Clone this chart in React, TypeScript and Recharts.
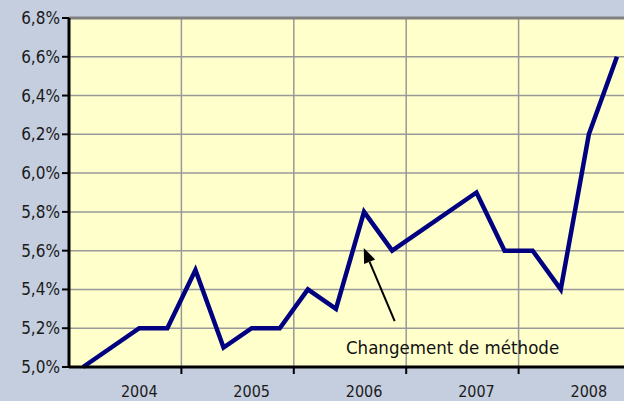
import React from "react";
import {
  LineChart,
  Line,
  XAxis,
  YAxis,
  CartesianGrid,
  ReferenceLine,
  ReferenceDot,
} from "recharts";

// quarterly rate, 2004 T1 .. 2008 T4 (null = no point published)
const years = ["2004", "2005", "2006", "2007", "2008"];
const quarters = years.flatMap((y) => ["T1", "T2", "T3", "T4"].map((q) => y + " " + q));
const rate = [
  5.0, null, 5.2, 5.2,
  5.5, 5.1, 5.2, 5.2,
  5.4, 5.3, 5.8, 5.6,
  null, null, 5.9, 5.6,
  5.6, 5.4, 6.2, 6.6,
];
const yTicks = [5.0, 5.2, 5.4, 5.6, 5.8, 6.0, 6.2, 6.4, 6.6, 6.8];
const yearBounds = [3.5, 7.5, 11.5, 15.5];
// year label sits under the third quarter
const yearLabelAt = [2, 6, 10, 14, 18];

const data = quarters.map((q, i) => ({ idx: i, label: q, rate: rate[i] }));

const font = "'DejaVu Sans Condensed', 'DejaVu Sans', sans-serif";

const Arrow = (p: any) => {
  const { x1, y1, x2, y2 } = p;
  const ang = Math.atan2(y2 - y1, x2 - x1);
  const len = 15;
  const w = 6;
  const bx = x2 - len * Math.cos(ang);
  const by = y2 - len * Math.sin(ang);
  const px = -Math.sin(ang) * w;
  const py = Math.cos(ang) * w;
  return (
    <g>
      <line x1={x1} y1={y1} x2={bx} y2={by} stroke="#000" strokeWidth={2} />
      <polygon
        points={`${x2},${y2} ${bx + px},${by + py} ${bx - px},${by - py}`}
        fill="#000"
      />
    </g>
  );
};

export default function App() {
  return (
    <div
      style={{
        position: "absolute",
        left: 0,
        top: 0,
        width: 624,
        height: 401,
        overflow: "hidden",
        background: "#C5CEDF",
      }}
    >
      <LineChart
        width={640}
        height={401}
        data={data}
        margin={{ top: 18, right: 9, left: 0, bottom: 0 }}
      >
        <CartesianGrid fill="#FFFFCC" stroke="#999" strokeWidth={1.5} />
        <ReferenceLine y={6.8} stroke="#808080" strokeWidth={3} />
        <XAxis
          xAxisId={0}
          dataKey="idx"
          type="number"
          domain={[-0.5, 19.5]}
          ticks={yearBounds}
          tickFormatter={() => ""}
          height={8}
          tickSize={7}
          axisLine={{ stroke: "#000", strokeWidth: 3 }}
          tickLine={{ stroke: "#000", strokeWidth: 2 }}
        />
        <XAxis
          xAxisId="years"
          dataKey="idx"
          type="number"
          domain={[-0.5, 19.5]}
          ticks={yearLabelAt}
          tickFormatter={(v: number) => years[Math.floor(v / 4)]}
          height={26}
          axisLine={false}
          tickLine={false}
          tick={{ fill: "#1a1a1a", fontSize: 16, fontFamily: font, dy: 3 }}
        />
        <YAxis
          domain={[5.0, 6.8]}
          ticks={yTicks}
          width={69}
          interval={0}
          tickSize={7}
          tickFormatter={(v: number) => v.toFixed(1).replace(".", ",") + "%"}
          axisLine={{ stroke: "#000", strokeWidth: 3 }}
          tickLine={{ stroke: "#000", strokeWidth: 2 }}
          tick={{ fill: "#1a1a1a", fontSize: 17, fontFamily: font }}
        />
        <Line
          type="linear"
          dataKey="rate"
          stroke="#000080"
          strokeWidth={4.5}
          dot={false}
          connectNulls
          isAnimationActive={false}
        />
        <ReferenceLine
          segment={[
            { x: 11.09, y: 5.237 },
            { x: 9.99, y: 5.614 },
          ]}
          shape={Arrow}
        />
        <ReferenceDot
          x={13.15}
          y={5.1}
          r={1}
          fill="none"
          stroke="none"
          label={{
            value: "Changement de méthode",
            position: "center",
            fill: "#111",
            fontSize: 18.5,
            fontFamily: font,
          }}
        />
      </LineChart>
    </div>
  );
}
